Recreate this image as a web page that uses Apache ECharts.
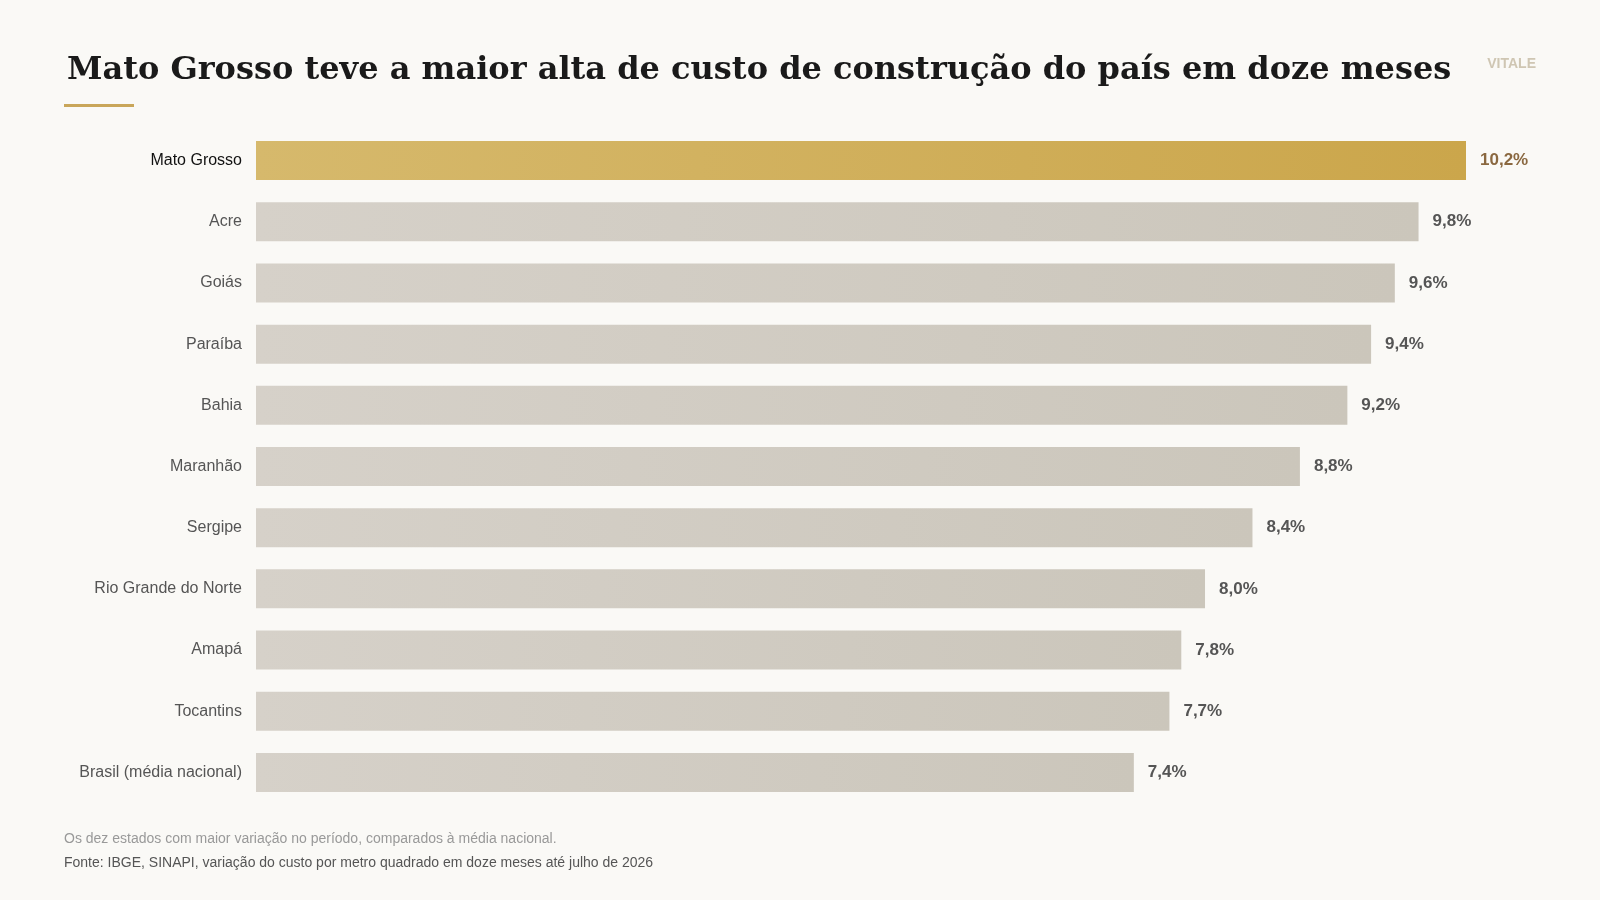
<!DOCTYPE html>
<html>
<head>
<meta charset="utf-8">
<script src="https://cdn.jsdelivr.net/npm/echarts@6/dist/echarts.min.js"></script>
<style>
  html, body { margin: 0; padding: 0; background: #faf9f6; }
  #chart { width: 1600px; height: 900px; }
</style>
</head>
<body>
<div id="chart"></div>
<script>
const states = ['Mato Grosso', 'Acre', 'Goiás', 'Paraíba', 'Bahia', 'Maranhão', 'Sergipe',
  'Rio Grande do Norte', 'Amapá', 'Tocantins', 'Brasil (média nacional)'];
const variation = [10.2, 9.8, 9.6, 9.4, 9.2, 8.8, 8.4, 8.0, 7.8, 7.7, 7.4];

const gold = new echarts.graphic.LinearGradient(0, 0, 1, 0, [
  { offset: 0, color: '#d6b96c' }, { offset: 1, color: '#cba64b' }]);
const grey = new echarts.graphic.LinearGradient(0, 0, 1, 0, [
  { offset: 0, color: '#d6d1c9' }, { offset: 1, color: '#cbc6bb' }]);

const fmt = v => v.toFixed(1).replace('.', ',') + '%';

const chart = echarts.init(document.getElementById('chart'));
chart.setOption({
  backgroundColor: '#faf9f6',
  animation: false,
  title: {
    text: 'Mato Grosso teve a maior alta de custo de construção do país em doze meses',
    left: 62, top: 50,
    textStyle: { fontFamily: 'DejaVu Serif', fontWeight: 'bold', fontSize: 32, color: '#1a1a1a' }
  },
  graphic: [
    { type: 'rect', shape: { x: 64, y: 104, width: 70, height: 3 }, style: { fill: '#c9a65a' } },
    { type: 'text', right: 64, top: 57, style: { text: 'VITALE', font: 'bold 14px Arial', fill: '#cfc6b3' } },
    { type: 'text', left: 64, top: 832, style: { text: 'Os dez estados com maior variação no período, comparados à média nacional.', font: '14px Arial', fill: '#999' } },
    { type: 'text', left: 64, top: 856, style: { text: 'Fonte: IBGE, SINAPI, variação do custo por metro quadrado em doze meses até julho de 2026', font: '14px Arial', fill: '#555' } }
  ],
  grid: { left: 256, right: 134, top: 130, bottom: 97 },
  xAxis: { type: 'value', min: 0, max: 10.2, show: false },
  yAxis: {
    type: 'category', data: states, inverse: true,
    axisLine: { show: false }, axisTick: { show: false },
    axisLabel: {
      margin: 14, fontFamily: 'Arial', fontSize: 16,
      color: (v) => v === 'Mato Grosso' ? '#111' : '#555'
    }
  },
  series: [{
    type: 'bar', barWidth: 39,
    data: variation.map((v, i) => ({
      value: v,
      itemStyle: { color: i === 0 ? gold : grey },
      label: { color: i === 0 ? '#8a6840' : '#555' }
    })),
    label: {
      show: true, position: 'right', distance: 14,
      fontFamily: 'Arial', fontWeight: 'bold', fontSize: 17,
      formatter: p => fmt(p.value)
    }
  }]
});
</script>
</body>
</html>
